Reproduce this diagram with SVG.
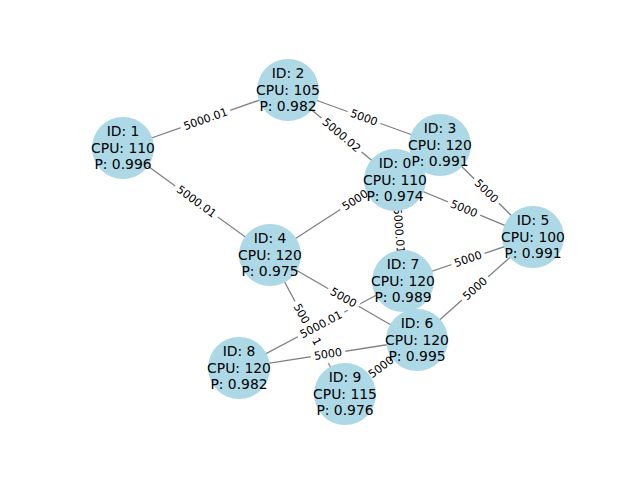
<svg xmlns="http://www.w3.org/2000/svg" width="640" height="480" viewBox="0 0 640 480">
<style>
.e{stroke:#808080;stroke-width:1.3;fill:none}
.n{fill:#add8e6}
.t{font-family:"DejaVu Sans",sans-serif;font-size:13.9px;fill:#000;text-anchor:middle}
.lb{fill:#fff}
.lt{font-family:"DejaVu Sans",sans-serif;font-size:11.1px;fill:#000;text-anchor:middle}
</style>
<rect width="640" height="480" fill="#fff"/>
<g id="edges">
<line class="e" x1="123" y1="148" x2="288" y2="90"/>
<line class="e" x1="123" y1="148" x2="270" y2="255"/>
<line class="e" x1="288" y1="90" x2="440" y2="145"/>
<line class="e" x1="288" y1="90" x2="395" y2="180"/>
<line class="e" x1="270" y1="255" x2="440" y2="145"/>
<line class="e" x1="395" y1="180" x2="403" y2="281"/>
<line class="e" x1="395" y1="180" x2="533" y2="237"/>
<line class="e" x1="440" y1="145" x2="533" y2="237"/>
<line class="e" x1="403" y1="281" x2="533" y2="237"/>
<line class="e" x1="417" y1="340" x2="533" y2="237"/>
<line class="e" x1="270" y1="255" x2="417" y2="340"/>
<line class="e" x1="270" y1="255" x2="345" y2="394"/>
<line class="e" x1="403" y1="281" x2="239" y2="368"/>
<line class="e" x1="239" y1="368" x2="417" y2="340"/>
<line class="e" x1="345" y1="394" x2="417" y2="340"/>
</g>
<g id="edge-labels">
<g transform="translate(205.5,119) rotate(-19.4)"><rect class="lb" x="-26.3" y="-9" width="52.6" height="18" rx="3"/><text class="lt" y="3.8">5000.01</text></g>
<g transform="translate(196.5,201.5) rotate(36.1)"><rect class="lb" x="-26.3" y="-9" width="52.6" height="18" rx="3"/><text class="lt" y="3.8">5000.01</text></g>
<g transform="translate(364,117.5) rotate(19.9)"><rect class="lb" x="-17.5" y="-9" width="35" height="18" rx="3"/><text class="lt" y="3.8">5000</text></g>
<g transform="translate(341.5,135) rotate(40.1)"><rect class="lb" x="-26.3" y="-9" width="52.6" height="18" rx="3"/><text class="lt" y="3.8">5000.02</text></g>
<g transform="translate(355,200) rotate(-32.9)"><rect class="lb" x="-17.5" y="-9" width="35" height="18" rx="3"/><text class="lt" y="3.8">5000</text></g>
<g transform="translate(399,230.5) rotate(85.5)"><rect class="lb" x="-26.3" y="-9" width="52.6" height="18" rx="3"/><text class="lt" y="3.8">5000.01</text></g>
<g transform="translate(464,208.5) rotate(22.4)"><rect class="lb" x="-17.5" y="-9" width="35" height="18" rx="3"/><text class="lt" y="3.8">5000</text></g>
<g transform="translate(486.5,191) rotate(44.7)"><rect class="lb" x="-17.5" y="-9" width="35" height="18" rx="3"/><text class="lt" y="3.8">5000</text></g>
<g transform="translate(468,259) rotate(-18.7)"><rect class="lb" x="-17.5" y="-9" width="35" height="18" rx="3"/><text class="lt" y="3.8">5000</text></g>
<g transform="translate(475,288.5) rotate(-41.6)"><rect class="lb" x="-17.5" y="-9" width="35" height="18" rx="3"/><text class="lt" y="3.8">5000</text></g>
<g transform="translate(343.5,297.5) rotate(30)"><rect class="lb" x="-17.5" y="-9" width="35" height="18" rx="3"/><text class="lt" y="3.8">5000</text></g>
<g transform="translate(307.5,324.5) rotate(61.6)"><rect class="lb" x="-26.3" y="-9" width="52.6" height="18" rx="3"/><text class="lt" y="3.8">5000.01</text></g>
<g transform="translate(321,324.5) rotate(-27.9)"><rect class="lb" x="-26.3" y="-9" width="52.6" height="18" rx="3"/><text class="lt" y="3.8">5000.01</text></g>
<g transform="translate(328,354) rotate(-8.9)"><rect class="lb" x="-17.5" y="-9" width="35" height="18" rx="3"/><text class="lt" y="3.8">5000</text></g>
<g transform="translate(381,367) rotate(-36.9)"><rect class="lb" x="-17.5" y="-9" width="35" height="18" rx="3"/><text class="lt" y="3.8">5000</text></g>
</g>
<g id="node0"><circle class="n" cx="395" cy="180" r="31"/></g>
<g id="node1"><circle class="n" cx="123" cy="148" r="31"/></g>
<g id="node2"><circle class="n" cx="288" cy="90" r="31"/></g>
<g id="node3"><circle class="n" cx="440" cy="145" r="31"/></g>
<g id="node4"><circle class="n" cx="270" cy="255" r="31"/></g>
<g id="node5"><circle class="n" cx="533" cy="237" r="31"/></g>
<g id="node6"><circle class="n" cx="417" cy="340" r="31"/></g>
<g id="node7"><circle class="n" cx="403" cy="281" r="31"/></g>
<g id="node8"><circle class="n" cx="239" cy="368" r="31"/></g>
<g id="node9"><circle class="n" cx="345" cy="394" r="31"/></g>
<g id="node-labels">
<text class="t" x="395" y="168">ID: 0</text><text class="t" x="395" y="184.5">CPU: 110</text><text class="t" x="395" y="201">P: 0.974</text>
<text class="t" x="123" y="136">ID: 1</text><text class="t" x="123" y="152.5">CPU: 110</text><text class="t" x="123" y="169">P: 0.996</text>
<text class="t" x="288" y="78">ID: 2</text><text class="t" x="288" y="94.5">CPU: 105</text><text class="t" x="288" y="111">P: 0.982</text>
<text class="t" x="440" y="133">ID: 3</text><text class="t" x="440" y="149.5">CPU: 120</text><text class="t" x="440" y="166">P: 0.991</text>
<text class="t" x="270" y="243">ID: 4</text><text class="t" x="270" y="259.5">CPU: 120</text><text class="t" x="270" y="276">P: 0.975</text>
<text class="t" x="533" y="225">ID: 5</text><text class="t" x="533" y="241.5">CPU: 100</text><text class="t" x="533" y="258">P: 0.991</text>
<text class="t" x="417" y="328">ID: 6</text><text class="t" x="417" y="344.5">CPU: 120</text><text class="t" x="417" y="361">P: 0.995</text>
<text class="t" x="403" y="269">ID: 7</text><text class="t" x="403" y="285.5">CPU: 120</text><text class="t" x="403" y="302">P: 0.989</text>
<text class="t" x="239" y="356">ID: 8</text><text class="t" x="239" y="372.5">CPU: 120</text><text class="t" x="239" y="389">P: 0.982</text>
<text class="t" x="345" y="382">ID: 9</text><text class="t" x="345" y="398.5">CPU: 115</text><text class="t" x="345" y="415">P: 0.976</text>
</g>
</svg>
